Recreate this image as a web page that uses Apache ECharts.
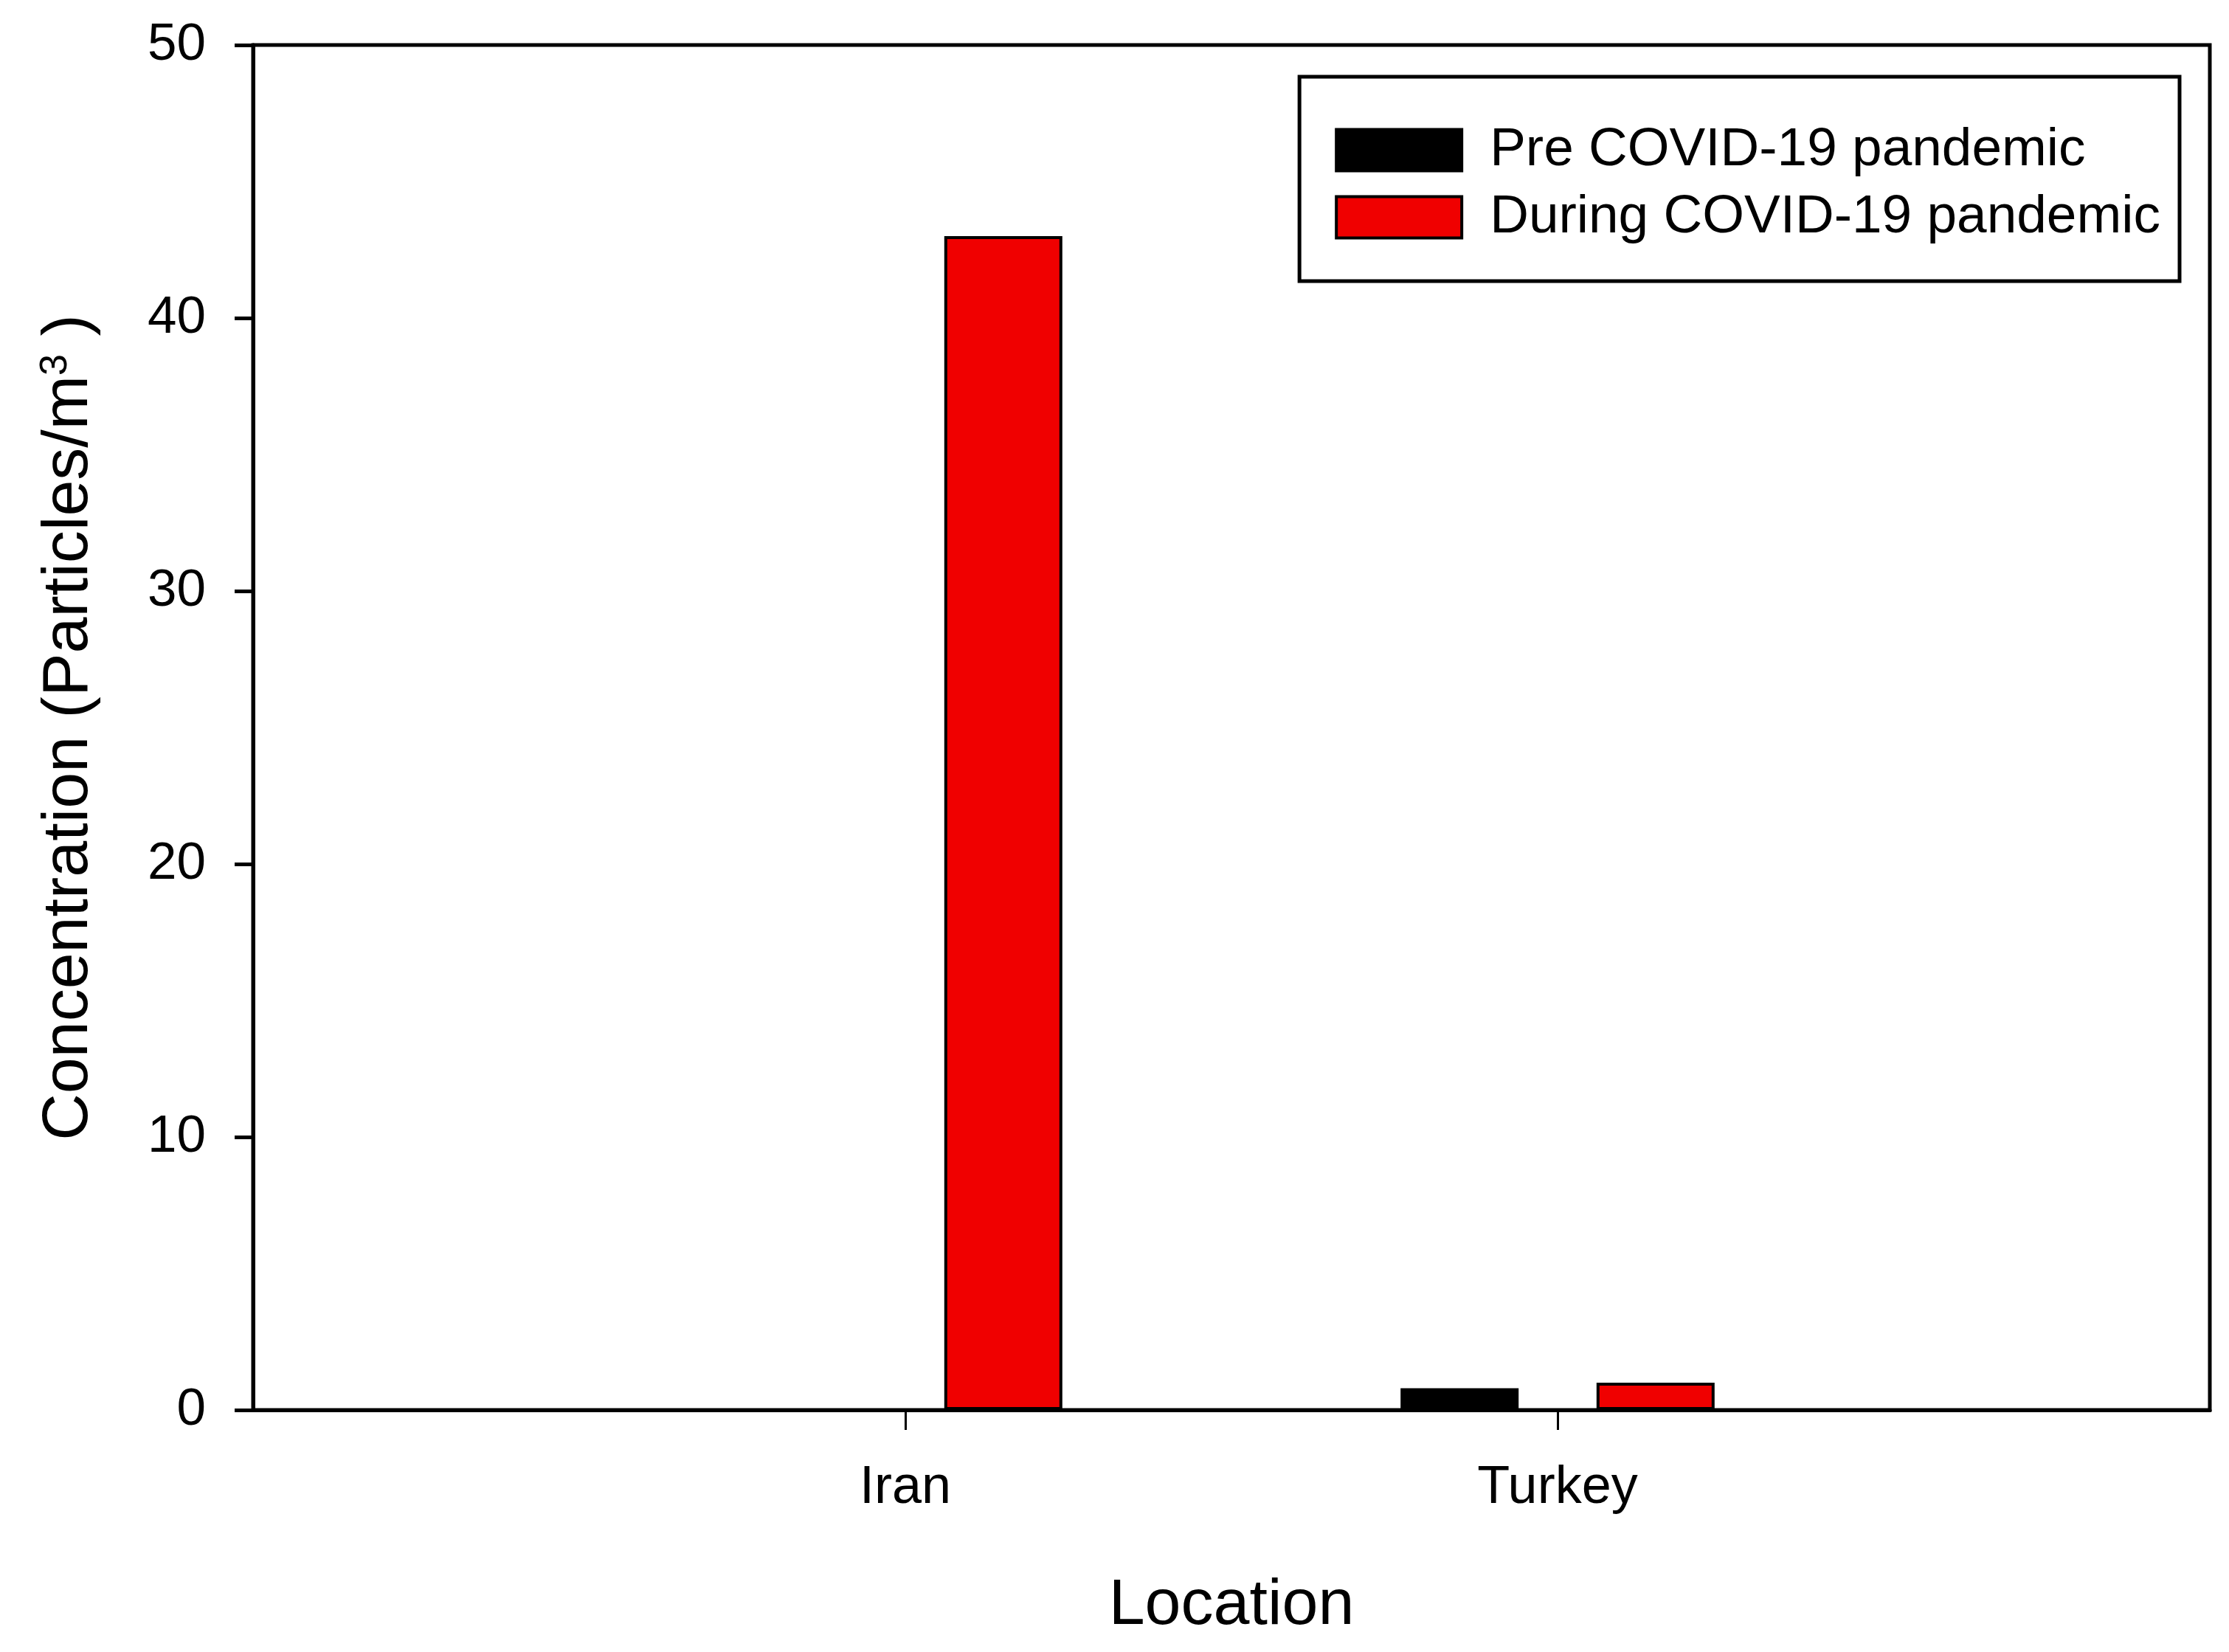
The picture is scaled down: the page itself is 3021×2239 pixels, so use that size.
<!DOCTYPE html>
<html>
<head>
<meta charset="utf-8">
<script src="https://cdn.jsdelivr.net/npm/echarts@6/dist/echarts.min.js"></script>
<style>
html,body{margin:0;padding:0;background:#fff;}
#chart{width:3021px;height:2239px;}
</style>
</head>
<body>
<div id="chart"></div>
<script>
// ---- data ----
const categories = ['Iran', 'Turkey'];
const seriesNames = ['Pre COVID-19 pandemic', 'During COVID-19 pandemic'];
const preValues = [null, 0.8];
const duringValues = [43, 1.0];
const yTicks = [0, 10, 20, 30, 40, 50];

// axis slots: an empty slot on each side so categories sit at 1/3 and 2/3 of the axis
const axisSlots = [''].concat(categories, ['']);
const pad = arr => [null].concat(arr, [null]);

const FONT = '"Liberation Sans", Arial, sans-serif';
const RED = '#f00000';

const chart = echarts.init(document.getElementById('chart'), null, {renderer: 'canvas'});
chart.setOption({
  backgroundColor: '#ffffff',
  animation: false,
  textStyle: {fontFamily: FONT, color: '#000'},
  grid: {
    left: 343, right: 26, top: 61, bottom: 328,
    show: true, borderColor: '#000', borderWidth: 5, backgroundColor: 'transparent'
  },
  legend: {
    right: 67, top: 104,
    orient: 'vertical',
    itemWidth: 170, itemHeight: 56, itemGap: 18,
    padding: [63, 26, 50, 48],
    borderColor: '#000', borderWidth: 5,
    backgroundColor: '#fff',
    icon: 'rect',
    itemStyle: {borderColor: '#000', borderWidth: 4},
    textStyle: {fontSize: 73, color: '#000', fontFamily: FONT, padding: [8, 0, 0, 33]},
    data: seriesNames
  },
  xAxis: {
    type: 'category',
    data: axisSlots,
    boundaryGap: false,
    name: 'Location',
    nameLocation: 'middle',
    nameGap: 222,
    nameTextStyle: {fontSize: 88, color: '#000', fontFamily: FONT},
    axisLine: {show: true, lineStyle: {color: '#000', width: 5}},
    axisTick: {
      show: true, length: 27, inside: false,
      lineStyle: {color: '#000', width: 3},
      interval: (idx, val) => val !== ''
    },
    axisLabel: {fontSize: 72, color: '#000', margin: 70, fontFamily: FONT, interval: 0},
    splitLine: {show: false}
  },
  yAxis: {
    type: 'value',
    min: yTicks[0], max: yTicks[yTicks.length - 1], interval: yTicks[1] - yTicks[0],
    name: 'Concentration (Particles/m{sup|3} )',
    nameLocation: 'middle',
    nameGap: 205,
    nameTextStyle: {
      fontSize: 88, color: '#000', fontFamily: FONT,
      rich: {sup: {fontSize: 52, verticalAlign: 'top', color: '#000', fontFamily: FONT, padding: [0, 0, 34, 0]}}
    },
    axisLine: {show: true, lineStyle: {color: '#000', width: 5}},
    axisTick: {show: true, length: 25, inside: false, lineStyle: {color: '#000', width: 5}},
    axisLabel: {fontSize: 71, color: '#000', margin: 64, fontFamily: FONT},
    splitLine: {show: false}
  },
  series: [
    {
      name: seriesNames[0], type: 'bar', data: pad(preValues),
      barWidth: 160, barGap: '66%',
      itemStyle: {color: '#000', borderColor: '#000', borderWidth: 4}
    },
    {
      name: seriesNames[1], type: 'bar', data: pad(duringValues),
      barWidth: 160, barGap: '66%',
      itemStyle: {color: RED, borderColor: '#000', borderWidth: 4}
    }
  ]
});
</script>
</body>
</html>
